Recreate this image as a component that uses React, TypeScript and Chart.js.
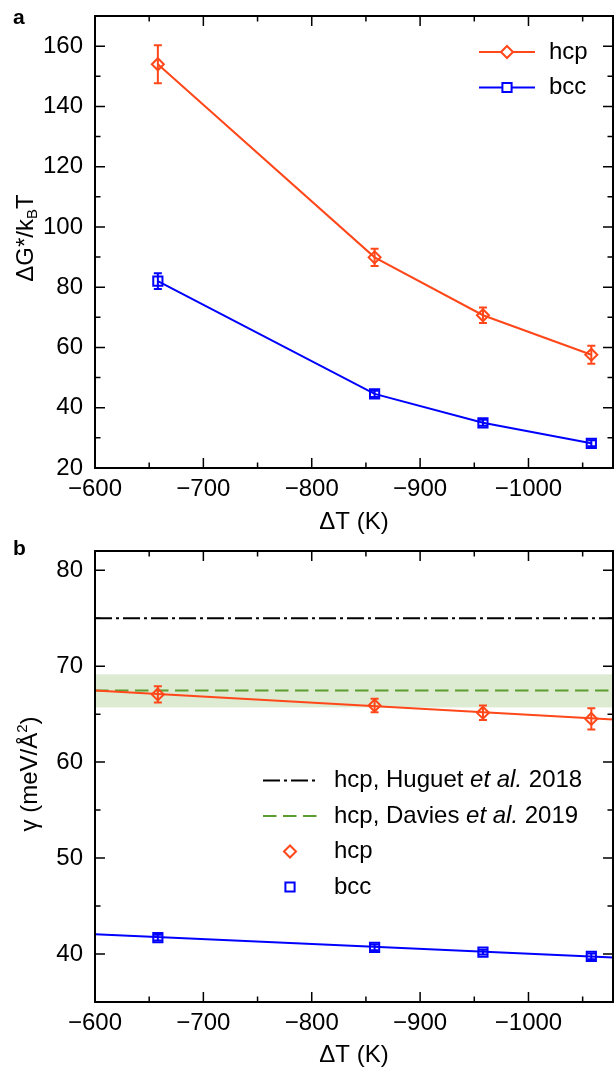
import React, { useEffect, useRef } from "react";
import { Chart, registerables } from "chart.js";

Chart.register(...registerables);

// ---------------- data ----------------
const undercooling = [-658, -858, -958, -1058];
const hcpBarrier = [154.0, 89.9, 70.7, 57.6];
const hcpBarrierErr = [6.3, 2.9, 2.6, 3.0];
const bccBarrier = [82.0, 44.6, 35.0, 28.2];
const bccBarrierErr = [2.6, 1.0, 1.0, 1.0];

const hcpGamma = [67.05, 65.9, 65.15, 64.5];
const hcpGammaErr = [0.85, 0.7, 0.75, 1.1];
const bccGamma = [41.7, 40.7, 40.2, 39.75];
const bccGammaErr = [0.3, 0.3, 0.25, 0.3];

const fitRange = [-600, -1078];
const hcpGammaFit = [67.45, 64.45];
const bccGammaFit = [42.05, 39.65];
const huguetGamma = [75.0, 75.0];
const daviesGamma = [67.45, 67.45];
const daviesBand = [65.7, 69.15];

const xTickValues = [-600, -700, -800, -900, -1000];
const xMinorTickValues = [-650, -750, -850, -950, -1050];
const barrierTicks = [20, 40, 60, 80, 100, 120, 140, 160];
const barrierMinorTicks = [30, 50, 70, 90, 110, 130, 150];
const gammaTicks = [40, 50, 60, 70, 80];
const gammaMinorTicks = [45, 55, 65, 75];

// ---------------- style ----------------
const FONT = '"Liberation Sans", Arial, Helvetica, sans-serif';
const FS = 24;
const RED = "#ff4719";
const BLUE = "#0000ff";
const GREEN = "#5c9e2e";
const BAND = "#dcebd2";
const X_MIN = -1078;
const X_MAX = -600;
const DASH_DOT = [17, 4, 3, 4];
const DASH = [13.5, 6.5];

const fmtMinus = (v: number) => (v < 0 ? "\u2212" + Math.abs(v) : String(v));

function pts(xs: number[], ys: number[]) {
  return xs.map((x, i) => ({ x, y: ys[i] }));
}

function drawMarker(ctx: CanvasRenderingContext2D, style: string, x: number, y: number, color: string, fill?: string) {
  ctx.save();
  ctx.strokeStyle = color;
  ctx.lineWidth = 2;
  ctx.beginPath();
  if (style === "rectRot") {
    const r = 6;
    ctx.moveTo(x - r, y);
    ctx.lineTo(x, y - r);
    ctx.lineTo(x + r, y);
    ctx.lineTo(x, y + r);
    ctx.closePath();
  } else {
    const s = 4.6;
    ctx.rect(x - s, y - s, 2 * s, 2 * s);
  }
  if (fill) {
    ctx.fillStyle = fill;
    ctx.fill();
  }
  ctx.stroke();
  ctx.restore();
}

function drawSegments(ctx: CanvasRenderingContext2D, segs: { t: string; font: string; dy?: number }[], x: number, y: number, align: "left" | "center") {
  let total = 0;
  for (const s of segs) {
    ctx.font = s.font;
    total += ctx.measureText(s.t).width;
  }
  let cx = align === "center" ? x - total / 2 : x;
  for (const s of segs) {
    ctx.font = s.font;
    ctx.fillText(s.t, cx, y + (s.dy || 0));
    cx += ctx.measureText(s.t).width;
  }
}

function makeFramePlugin(yMajor: number[], yMinor: number[]) {
  return {
    id: "frameTicks",
    afterDraw(chart: any) {
      const { ctx, chartArea: a } = chart;
      const x = chart.scales.x;
      const y = chart.scales.y;
      ctx.save();
      ctx.strokeStyle = "#000";
      ctx.lineWidth = 1.5;
      ctx.beginPath();
      const xt = (vals: number[], len: number) => {
        for (const v of vals) {
          const p = x.getPixelForValue(v);
          ctx.moveTo(p, a.bottom);
          ctx.lineTo(p, a.bottom - len);
          ctx.moveTo(p, a.top);
          ctx.lineTo(p, a.top + len);
        }
      };
      const yt = (vals: number[], len: number) => {
        for (const v of vals) {
          const p = y.getPixelForValue(v);
          ctx.moveTo(a.left, p);
          ctx.lineTo(a.left + len, p);
          ctx.moveTo(a.right, p);
          ctx.lineTo(a.right - len, p);
        }
      };
      xt(xTickValues, 10);
      xt(xMinorTickValues, 5.5);
      yt(yMajor, 10);
      yt(yMinor, 5.5);
      ctx.stroke();
      ctx.lineWidth = 2;
      ctx.strokeRect(a.left, a.top, a.right - a.left, a.bottom - a.top);
      ctx.restore();
    },
  };
}

const errorBarPlugin = {
  id: "errorBars",
  afterDatasetsDraw(chart: any) {
    const { ctx } = chart;
    const x = chart.scales.x;
    const y = chart.scales.y;
    chart.data.datasets.forEach((ds: any) => {
      if (!ds.errors) return;
      ctx.save();
      ctx.strokeStyle = ds.borderColor;
      ctx.lineWidth = 2;
      ctx.beginPath();
      ds.data.forEach((d: any, i: number) => {
        const px = x.getPixelForValue(d.x);
        const top = y.getPixelForValue(d.y + ds.errors[i]);
        const bot = y.getPixelForValue(d.y - ds.errors[i]);
        ctx.moveTo(px, top);
        ctx.lineTo(px, bot);
        ctx.moveTo(px - 4, top);
        ctx.lineTo(px + 4, top);
        ctx.moveTo(px - 4, bot);
        ctx.lineTo(px + 4, bot);
      });
      ctx.stroke();
      ctx.restore();
    });
  },
};

const bandPlugin = {
  id: "daviesBand",
  beforeDatasetsDraw(chart: any) {
    const { ctx, chartArea: a } = chart;
    const y = chart.scales.y;
    const y1 = y.getPixelForValue(daviesBand[1]);
    const y0 = y.getPixelForValue(daviesBand[0]);
    ctx.save();
    ctx.fillStyle = BAND;
    ctx.fillRect(a.left, y1, a.right - a.left, y0 - y1);
    ctx.restore();
  },
};

const main = `${FS}px ${FONT}`;
const small = `15px ${FONT}`;
const italic = `italic ${FS}px ${FONT}`;
const bold = `bold 21px ${FONT}`;

const panelAText = {
  id: "panelAText",
  afterDraw(chart: any) {
    const { ctx } = chart;
    ctx.save();
    ctx.fillStyle = "#000";
    ctx.textBaseline = "alphabetic";
    ctx.font = bold;
    ctx.textAlign = "left";
    ctx.fillText("a", 13, 24);
    // y title
    ctx.translate(33, 238);
    ctx.rotate(-Math.PI / 2);
    drawSegments(ctx, [{ t: "\u0394G*/k", font: main }, { t: "B", font: small, dy: 4 }, { t: "T", font: main }], 0, 0, "center");
    ctx.restore();
    // legend
    ctx.save();
    ctx.textBaseline = "middle";
    ctx.textAlign = "left";
    const rows = [
      { y: 52, c: RED, s: "rectRot", t: "hcp" },
      { y: 87.5, c: BLUE, s: "rect", t: "bcc" },
    ];
    for (const r of rows) {
      ctx.strokeStyle = r.c;
      ctx.lineWidth = 2;
      ctx.beginPath();
      ctx.moveTo(479, r.y);
      ctx.lineTo(535, r.y);
      ctx.stroke();
      drawMarker(ctx, r.s, 507, r.y, r.c, "#fff");
      ctx.fillStyle = "#000";
      ctx.font = main;
      ctx.fillText(r.t, 549, r.y);
    }
    ctx.restore();
  },
};

const panelBText = {
  id: "panelBText",
  afterDraw(chart: any) {
    const { ctx } = chart;
    ctx.save();
    ctx.fillStyle = "#000";
    ctx.textBaseline = "alphabetic";
    ctx.font = bold;
    ctx.textAlign = "left";
    ctx.fillText("b", 13, 18);
    ctx.translate(36.5, 237);
    ctx.rotate(-Math.PI / 2);
    drawSegments(ctx, [{ t: "\u03b3 (meV/\u00c5", font: main }, { t: "2", font: `15px ${FONT}`, dy: -10 }, { t: ")", font: main }], 0, 0, "center");
    ctx.restore();

    ctx.save();
    ctx.textBaseline = "middle";
    ctx.textAlign = "left";
    const lx0 = 263;
    const lx1 = 317.5;
    const tx = 334;
    ctx.strokeStyle = "#000";
    ctx.lineWidth = 2;
    ctx.setLineDash(DASH_DOT);
    ctx.beginPath();
    ctx.moveTo(lx0, 243.5);
    ctx.lineTo(lx1, 243.5);
    ctx.stroke();
    ctx.strokeStyle = GREEN;
    ctx.setLineDash(DASH);
    ctx.beginPath();
    ctx.moveTo(lx0, 279);
    ctx.lineTo(lx1, 279);
    ctx.stroke();
    ctx.setLineDash([]);
    ctx.fillStyle = "#000";
    drawSegments(ctx, [{ t: "hcp, Huguet ", font: main }, { t: "et al.", font: italic }, { t: " 2018", font: main }], tx, 243.5, "left");
    drawSegments(ctx, [{ t: "hcp, Davies ", font: main }, { t: "et al.", font: italic }, { t: " 2019", font: main }], tx, 279, "left");
    drawMarker(ctx, "rectRot", 290, 314.5, RED);
    drawMarker(ctx, "rect", 290, 350, BLUE);
    ctx.fillStyle = "#000";
    ctx.font = main;
    ctx.fillText("hcp", tx, 314.5);
    ctx.fillText("bcc", tx, 350);
    ctx.restore();
  },
};

const zeroPad = (s: any) => {
  s.paddingTop = 0;
  s.paddingBottom = 0;
  s.paddingLeft = 0;
  s.paddingRight = 0;
};

function xScale(height: number) {
  return {
    type: "linear",
    min: X_MIN,
    max: X_MAX,
    reverse: true,
    afterBuildTicks: (s: any) => {
      s.ticks = xTickValues.map((v) => ({ value: v }));
    },
    afterFit: (s: any) => {
      s.height = height;
      zeroPad(s);
    },
    grid: { display: false, drawTicks: false },
    border: { display: false },
    ticks: {
      color: "#000",
      font: { family: FONT, size: FS },
      padding: 7,
      maxRotation: 0,
      autoSkip: false,
      callback: (v: any) => fmtMinus(Number(v)),
    },
    title: { display: true, text: "\u0394T (K)", color: "#000", font: { family: FONT, size: FS }, padding: 0 },
  };
}

function yScale(min: number, max: number, ticks: number[]) {
  return {
    type: "linear",
    min,
    max,
    afterBuildTicks: (s: any) => {
      s.ticks = ticks.map((v) => ({ value: v }));
    },
    afterFit: (s: any) => {
      s.width = 95;
      zeroPad(s);
    },
    grid: { display: false, drawTicks: false },
    border: { display: false },
    ticks: { color: "#000", font: { family: FONT, size: FS }, padding: 12, autoSkip: false },
  };
}

const baseOptions = (padTop: number) => ({
  responsive: false,
  animation: false,
  devicePixelRatio: 1,
  layout: { autoPadding: false, padding: { top: padTop, right: 3, left: 0, bottom: 0 } },
  plugins: { legend: { display: false }, tooltip: { enabled: false } },
});

function BarrierChart() {
  const ref = useRef<HTMLCanvasElement>(null);
  useEffect(() => {
    const chart = new Chart(ref.current as HTMLCanvasElement, {
      type: "line",
      data: {
        datasets: [
          {
            label: "hcp",
            data: pts(undercooling, hcpBarrier),
            errors: hcpBarrierErr,
            borderColor: RED,
            borderWidth: 2,
            pointStyle: "rectRot",
            pointRadius: 6,
            pointBorderWidth: 2,
            pointBorderColor: RED,
            pointBackgroundColor: "rgba(0,0,0,0)",
            tension: 0,
          } as any,
          {
            label: "bcc",
            data: pts(undercooling, bccBarrier),
            errors: bccBarrierErr,
            borderColor: BLUE,
            borderWidth: 2,
            pointStyle: "rect",
            pointRadius: 6.5,
            pointBorderWidth: 2,
            pointBorderColor: BLUE,
            pointBackgroundColor: "rgba(0,0,0,0)",
            tension: 0,
          } as any,
        ],
      },
      options: {
        ...baseOptions(16),
        scales: { x: xScale(69), y: yScale(20, 170, barrierTicks) },
      } as any,
      plugins: [errorBarPlugin, makeFramePlugin(barrierTicks, barrierMinorTicks), panelAText],
    });
    return () => chart.destroy();
  }, []);
  return <canvas ref={ref} width={616} height={537} style={{ display: "block", width: 616, height: 537 }} />;
}

function GammaChart() {
  const ref = useRef<HTMLCanvasElement>(null);
  useEffect(() => {
    const chart = new Chart(ref.current as HTMLCanvasElement, {
      type: "line",
      data: {
        datasets: [
          {
            label: "hcp",
            data: pts(undercooling, hcpGamma),
            errors: hcpGammaErr,
            showLine: false,
            borderColor: RED,
            pointStyle: "rectRot",
            pointRadius: 6,
            pointBorderWidth: 2,
            pointBorderColor: RED,
            pointBackgroundColor: "rgba(0,0,0,0)",
          } as any,
          {
            label: "bcc",
            data: pts(undercooling, bccGamma),
            errors: bccGammaErr,
            showLine: false,
            borderColor: BLUE,
            pointStyle: "rect",
            pointRadius: 6.5,
            pointBorderWidth: 2,
            pointBorderColor: BLUE,
            pointBackgroundColor: "rgba(0,0,0,0)",
          } as any,
          {
            label: "hcp fit",
            data: pts(fitRange, hcpGammaFit),
            borderColor: RED,
            borderWidth: 2,
            pointRadius: 0,
          },
          {
            label: "bcc fit",
            data: pts(fitRange, bccGammaFit),
            borderColor: BLUE,
            borderWidth: 2,
            pointRadius: 0,
          },
          {
            label: "hcp, Davies et al. 2019",
            data: pts(fitRange, daviesGamma),
            borderColor: GREEN,
            borderWidth: 2,
            borderDash: DASH,
            pointRadius: 0,
          },
          {
            label: "hcp, Huguet et al. 2018",
            data: pts(fitRange, huguetGamma),
            borderColor: "#000",
            borderWidth: 2,
            borderDash: DASH_DOT,
            pointRadius: 0,
          },
        ],
      },
      options: {
        ...baseOptions(14),
        scales: { x: xScale(68), y: yScale(35, 82, gammaTicks) },
      } as any,
      plugins: [bandPlugin, errorBarPlugin, makeFramePlugin(gammaTicks, gammaMinorTicks), panelBText],
    });
    return () => chart.destroy();
  }, []);
  return <canvas ref={ref} width={616} height={533} style={{ display: "block", width: 616, height: 533 }} />;
}

export default function App() {
  return (
    <div style={{ position: "absolute", left: 0, top: 0, width: 616, height: 1070, background: "#fff" }}>
      <BarrierChart />
      <GammaChart />
    </div>
  );
}
